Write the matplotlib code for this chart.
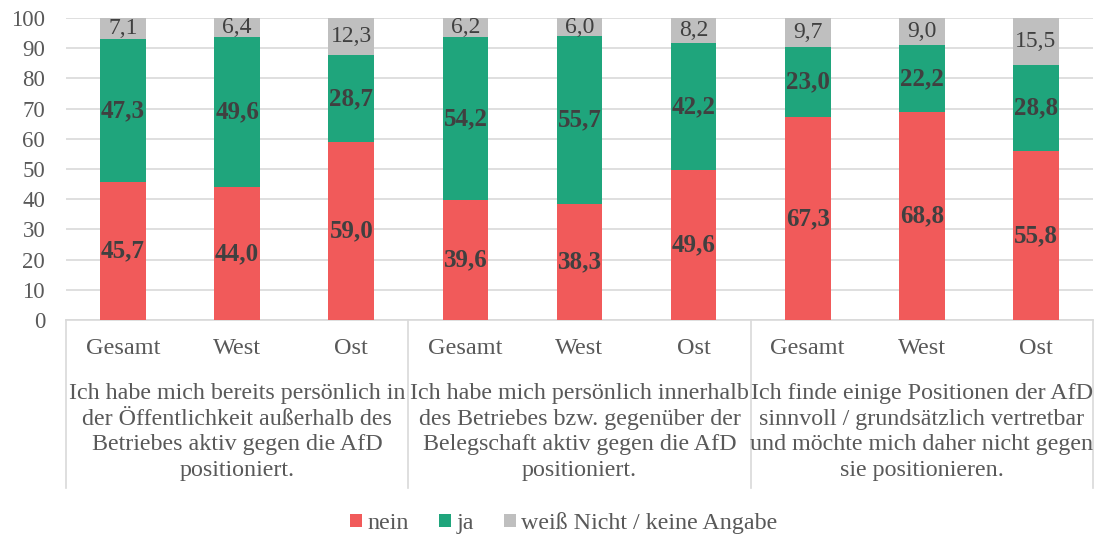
import matplotlib
matplotlib.use("Agg")
import matplotlib.pyplot as plt
from matplotlib.lines import Line2D

plt.rcParams['font.family'] = ['Liberation Serif', 'DejaVu Serif']

sub_labels = ["Gesamt", "West", "Ost"] * 3
group_labels = [
    "Ich habe mich bereits persönlich in\nder Öffentlichkeit außerhalb des\nBetriebes aktiv gegen die AfD\npositioniert.",
    "Ich habe mich persönlich innerhalb\ndes Betriebes bzw. gegenüber der\nBelegschaft aktiv gegen die AfD\npositioniert.",
    "Ich finde einige Positionen der AfD\nsinnvoll / grundsätzlich vertretbar\nund möchte mich daher nicht gegen\nsie positionieren.",
]
nein = [45.7, 44.0, 59.0, 39.6, 38.3, 49.6, 67.3, 68.8, 55.8]
ja = [47.3, 49.6, 28.7, 54.2, 55.7, 42.2, 23.0, 22.2, 28.8]
weiss = [7.1, 6.4, 12.3, 6.2, 6.0, 8.2, 9.7, 9.0, 15.5]
series_names = ["nein", "ja", "weiß Nicht / keine Angabe"]
colors = ["#F15A5A", "#1FA57C", "#BFBFBF"]

fig = plt.figure(figsize=(11, 5.36), dpi=100)
ax = fig.add_axes([66/1100, 1-320/536, (1093-66)/1100, (320-18)/536])

x = list(range(len(nein)))
w = 0.4
b1 = ax.bar(x, nein, w, color=colors[0], label=series_names[0], zorder=3)
b2 = ax.bar(x, ja, w, bottom=nein, color=colors[1], label=series_names[1], zorder=3)
bottom3 = [a + b for a, b in zip(nein, ja)]
b3 = ax.bar(x, weiss, w, bottom=bottom3, color=colors[2], label=series_names[2], zorder=3)

def fmt(v):
    return f"{v:.1f}".replace(".", ",")

for i in x:
    ax.text(i, nein[i]/2, fmt(nein[i]), ha='center', va='center', fontsize=18,
            fontweight='bold', color='#404040', zorder=4)
    ax.text(i, nein[i] + ja[i]/2, fmt(ja[i]), ha='center', va='center', fontsize=18,
            fontweight='bold', color='#404040', zorder=4)
    top = min(bottom3[i] + weiss[i], 100)
    ax.text(i, (bottom3[i] + top)/2, fmt(weiss[i]), ha='center', va='center', fontsize=17,
            color='#404040', zorder=4)

ax.set_xlim(-0.5, len(nein) - 0.5)
ax.set_ylim(0, 100)
ax.set_yticks(range(0, 101, 10))
ax.tick_params(axis='y', length=0, labelsize=16.5, labelcolor='#595959', pad=15)
ax.set_xticks([])
ax.grid(axis='y', color='#D9D9D9', linewidth=1.2, zorder=0)
for s in ['top', 'right', 'left']:
    ax.spines[s].set_visible(False)
ax.spines['bottom'].set_color('#D9D9D9')
ax.spines['bottom'].set_linewidth(1.2)

trans = ax.get_xaxis_transform()
bottom_frac = (320 - 488) / 302
for sep in [-0.5, 2.5, 5.5, 8.5]:
    ax.add_line(Line2D([sep, sep], [0, bottom_frac], transform=trans, color='#D9D9D9',
                       linewidth=1.2, clip_on=False))

sub_y = (320 - 349) / 302
for i, lab in zip(x, sub_labels):
    ax.text(i, sub_y, lab, transform=trans, ha='center', va='center', fontsize=17.5,
            color='#595959')

grp_y = (320 - 432) / 302
for g, lab in enumerate(group_labels):
    ax.text(3*g + 1, grp_y, lab, transform=trans, ha='center', va='center', fontsize=17.3,
            color='#595959', linespacing=1.3)

fig.legend(handles=[b1, b2, b3], labels=series_names, loc='center',
           bbox_to_anchor=(564/1100, 1-523/536), ncol=3, frameon=False, fontsize=17.3,
           labelcolor='#595959', handlelength=0.5, handleheight=0.5, handletextpad=0.22,
           columnspacing=1.25, borderpad=0.1)

fig.savefig("out.png", dpi=100)
